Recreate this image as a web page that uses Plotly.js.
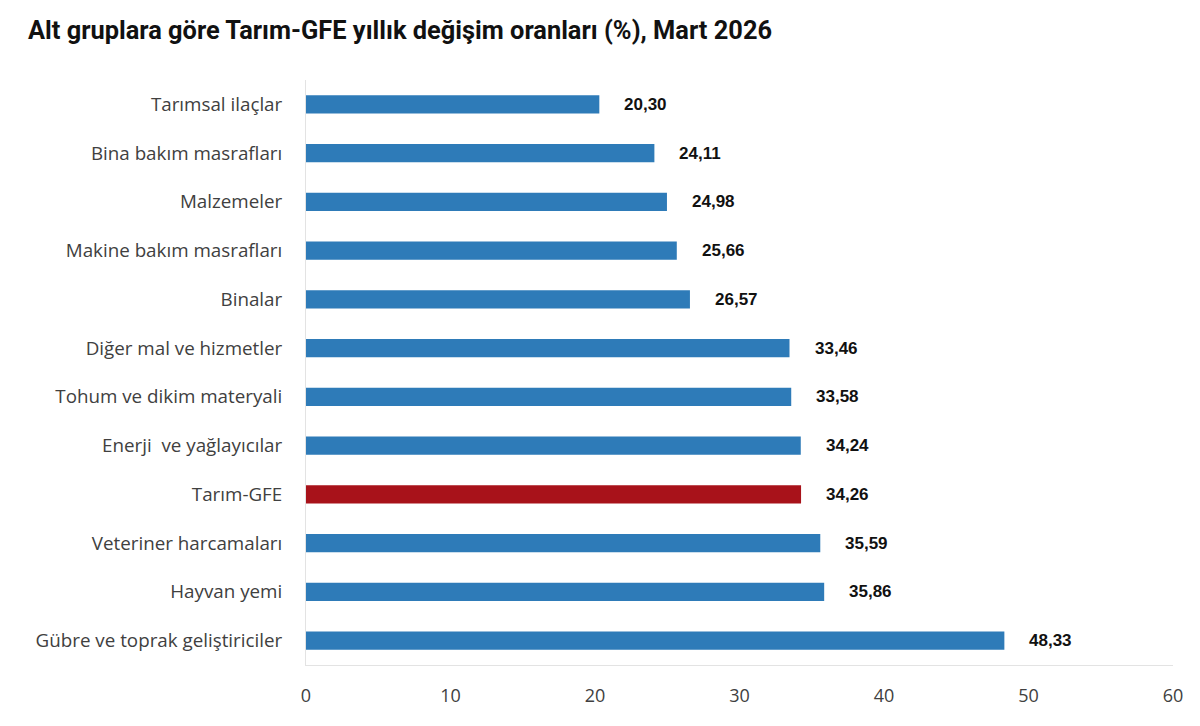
<!DOCTYPE html>
<html>
<head>
<meta charset="utf-8">
<script src="https://cdn.plot.ly/plotly-3.0.1.min.js"></script>
<style>
  html, body { margin: 0; padding: 0; background: #fff; }
  #chart { width: 1200px; height: 726px; }
</style>
</head>
<body>
<div id="chart"></div>
<script>
// alt gruplar, yukaridan asagiya
const groups = [
  "Tarımsal ilaçlar",
  "Bina bakım masrafları",
  "Malzemeler",
  "Makine bakım masrafları",
  "Binalar",
  "Diğer mal ve hizmetler",
  "Tohum ve dikim materyali",
  "Enerji  ve yağlayıcılar",
  "Tarım-GFE",
  "Veteriner harcamaları",
  "Hayvan yemi",
  "Gübre ve toprak geliştiriciler"
];
const rates = [20.30, 24.11, 24.98, 25.66, 26.57, 33.46, 33.58, 34.24, 34.26, 35.59, 35.86, 48.33];
const xTicks = [0, 10, 20, 30, 40, 50, 60];

const blue = "#2e7bb8";
const red = "#a8121a";
const barColors = groups.map(g => g === "Tarım-GFE" ? red : blue);

function fmt(v){
  return v.toFixed(2).replace(".", ",");
}

const labelFont = "'Open Sans', 'Noto Sans', sans-serif";

const bars = {
  type: "bar",
  orientation: "h",
  y: groups,
  x: rates,
  width: 0.37,
  marker: { color: barColors, line: { width: 0 } },
  hoverinfo: "skip"
};

const valueLabels = groups.map((g, i) => ({
  x: rates[i],
  y: g,
  xref: "x",
  yref: "y",
  text: fmt(rates[i]),
  showarrow: false,
  xanchor: "left",
  xshift: 23,
  font: { family: "'Liberation Sans', Arial, sans-serif", size: 17, color: "#111", weight: "bold" }
}));

const layout = {
  width: 1200,
  height: 726,
  margin: { l: 306, r: 27, t: 80, b: 61 },
  paper_bgcolor: "#fff",
  plot_bgcolor: "#fff",
  showlegend: false,
  title: {
    text: "<b>Alt gruplara göre Tarım-GFE yıllık değişim oranları (%), Mart 2026</b>",
    x: 28 / 1200,
    xanchor: "left",
    xref: "container",
    yref: "container",
    y: 1 - 30 / 726,
    yanchor: "middle",
    font: { family: "Roboto, 'Liberation Sans', sans-serif", size: 25.4, color: "#111" }
  },
  xaxis: {
    range: [0, 60],
    tickvals: xTicks,
    showgrid: false,
    zeroline: false,
    showline: true,
    linecolor: "#e3e3e3",
    linewidth: 1,
    ticks: "",
    ticklabelstandoff: 14,
    tickfont: { family: labelFont, size: 18, color: "#404040" },
    fixedrange: true
  },
  yaxis: {
    autorange: "reversed",
    showgrid: false,
    zeroline: false,
    showline: true,
    linecolor: "#e3e3e3",
    linewidth: 1,
    ticks: "",
    ticklabelstandoff: 19,
    tickfont: { family: labelFont, size: 18.8, color: "#404040" },
    fixedrange: true
  },
  annotations: valueLabels
};

Plotly.newPlot("chart", [bars], layout, { displayModeBar: false, staticPlot: true });
</script>
</body>
</html>
